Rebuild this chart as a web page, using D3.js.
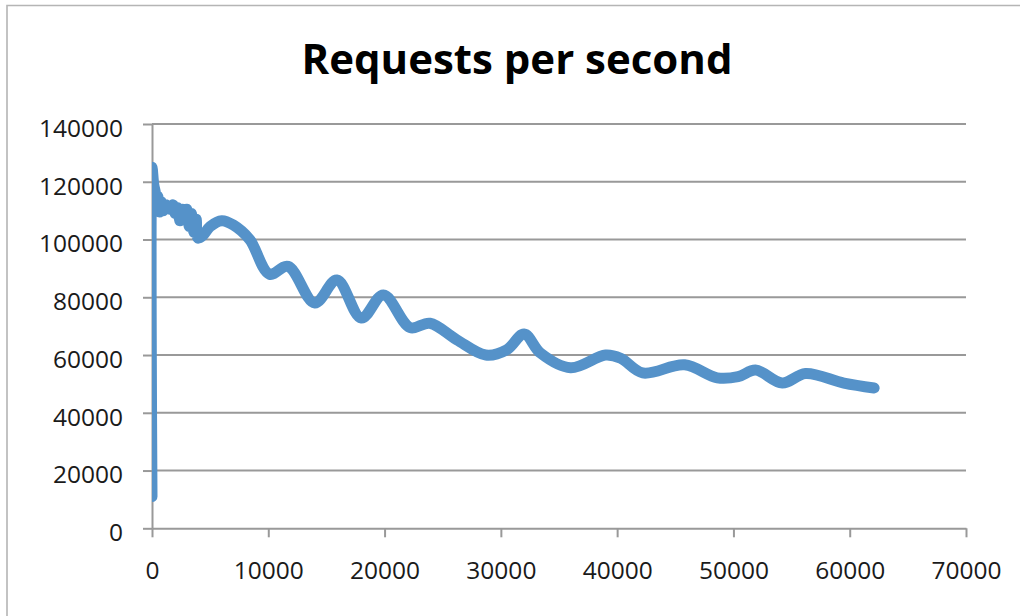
<!DOCTYPE html>
<html>
<head>
<meta charset="utf-8">
<script src="https://cdn.jsdelivr.net/npm/d3@7"></script>
<style>
  html, body { margin: 0; padding: 0; background: #fff; }
  svg { display: block; }
</style>
</head>
<body>
<svg id="chart" width="1020" height="616"></svg>
<script>
// ---- Data ----
const chartTitle = "Requests per second";
const xValues = [0, 0, 150, 300, 400, 500, 650, 800, 1000, 1200, 1500, 1800, 2000, 2200, 2400, 2600, 2800, 3000, 3200, 3400, 3600, 3800, 3950,
  4400, 5000, 6000, 7000, 8400, 10100, 11700, 14000, 15900, 18000, 19900, 22200, 23900, 26200, 28700, 30500, 32000, 33400,
  36000, 39000, 40300, 42200, 45800, 48600, 50400, 51900, 54200, 56200, 59500, 62100];
const yValues = [11000, 125000, 119000, 116000, 110500, 115000, 109500, 113000, 110000, 112000, 110500, 112000, 109000, 111000, 106500, 110500, 107000, 110500, 104500, 109000, 102500, 107000, 100500,
  101500, 104500, 106500, 105000, 100000, 88000, 90700, 78000, 86000, 72800, 80800, 69500, 71000, 65300, 60000, 61800, 67300, 60700,
  55600, 60000, 58900, 53800, 56600, 52100, 52500, 54800, 50300, 53600, 50300, 48600];
const xTicks = [0, 10000, 20000, 30000, 40000, 50000, 60000, 70000];
const yTicks = [0, 20000, 40000, 60000, 80000, 100000, 120000, 140000];

const points = xValues.map((x, i) => ({ x, y: yValues[i] }));

// ---- Layout ----
const svg = d3.select("#chart");
const plot = { left: 152, right: 966, top: 124, bottom: 528.3 };
const x = d3.scaleLinear().domain([0, 70000]).range([plot.left, plot.right]);
const y = d3.scaleLinear().domain([0, 140000]).range([plot.bottom, plot.top]);
const gridColor = "#999999";
const font = "'Open Sans', 'Liberation Sans', sans-serif";

// Outer chart border
svg.append("path")
  .attr("d", "M7,616 L7,5.5 L1020,5.5")
  .attr("fill", "none").attr("stroke", "#b5b5b5").attr("stroke-width", 1.6);

// Title
svg.append("text")
  .attr("x", 517).attr("y", 74)
  .attr("text-anchor", "middle")
  .attr("font-family", font).attr("font-weight", "bold")
  .attr("font-size", 42)
  .attr("textLength", 431).attr("lengthAdjust", "spacingAndGlyphs")
  .attr("fill", "#000")
  .text(chartTitle);

// Horizontal gridlines
svg.append("g").selectAll("line").data(yTicks.filter(d => d > 0)).join("line")
  .attr("x1", plot.left).attr("x2", plot.right)
  .attr("y1", d => y(d)).attr("y2", d => y(d))
  .attr("stroke", gridColor).attr("stroke-width", 2);

// Y axis
const yAxis = svg.append("g")
  .attr("transform", `translate(${plot.left},0)`)
  .call(d3.axisLeft(y).tickValues(yTicks).tickSize(9).tickSizeOuter(0).tickPadding(20).tickFormat(d3.format("d")));
yAxis.select(".domain").attr("stroke", gridColor).attr("stroke-width", 2);
yAxis.selectAll(".tick line").attr("stroke", gridColor).attr("stroke-width", 2);
yAxis.selectAll(".tick text")
  .attr("font-family", font).attr("font-size", 24.5).attr("fill", "#1a1a1a")
  .attr("dy", "0.5em");

// X axis
const xAxis = svg.append("g")
  .attr("transform", `translate(0,${plot.bottom})`)
  .call(d3.axisBottom(x).tickValues(xTicks).tickSize(9).tickSizeOuter(0).tickPadding(24).tickFormat(d3.format("d")));
xAxis.select(".domain").attr("stroke", gridColor).attr("stroke-width", 2);
xAxis.selectAll(".tick line").attr("stroke", gridColor).attr("stroke-width", 2);
xAxis.selectAll(".tick text")
  .attr("font-family", font).attr("font-size", 24.5).attr("fill", "#1a1a1a");

// Clip to plot area
svg.append("clipPath").attr("id", "plotclip")
  .append("rect")
  .attr("x", plot.left).attr("y", plot.top - 20)
  .attr("width", plot.right - plot.left + 20).attr("height", plot.bottom - plot.top + 20);

// Series line
const line = d3.line()
  .x(d => x(d.x)).y(d => y(d.y))
  .curve(d3.curveCatmullRom.alpha(0.5));

svg.append("path")
  .datum(points)
  .attr("clip-path", "url(#plotclip)")
  .attr("d", line)
  .attr("fill", "none")
  .attr("stroke", "#5592C9")
  .attr("stroke-width", 11)
  .attr("stroke-linejoin", "round")
  .attr("stroke-linecap", "round");
</script>
</body>
</html>
